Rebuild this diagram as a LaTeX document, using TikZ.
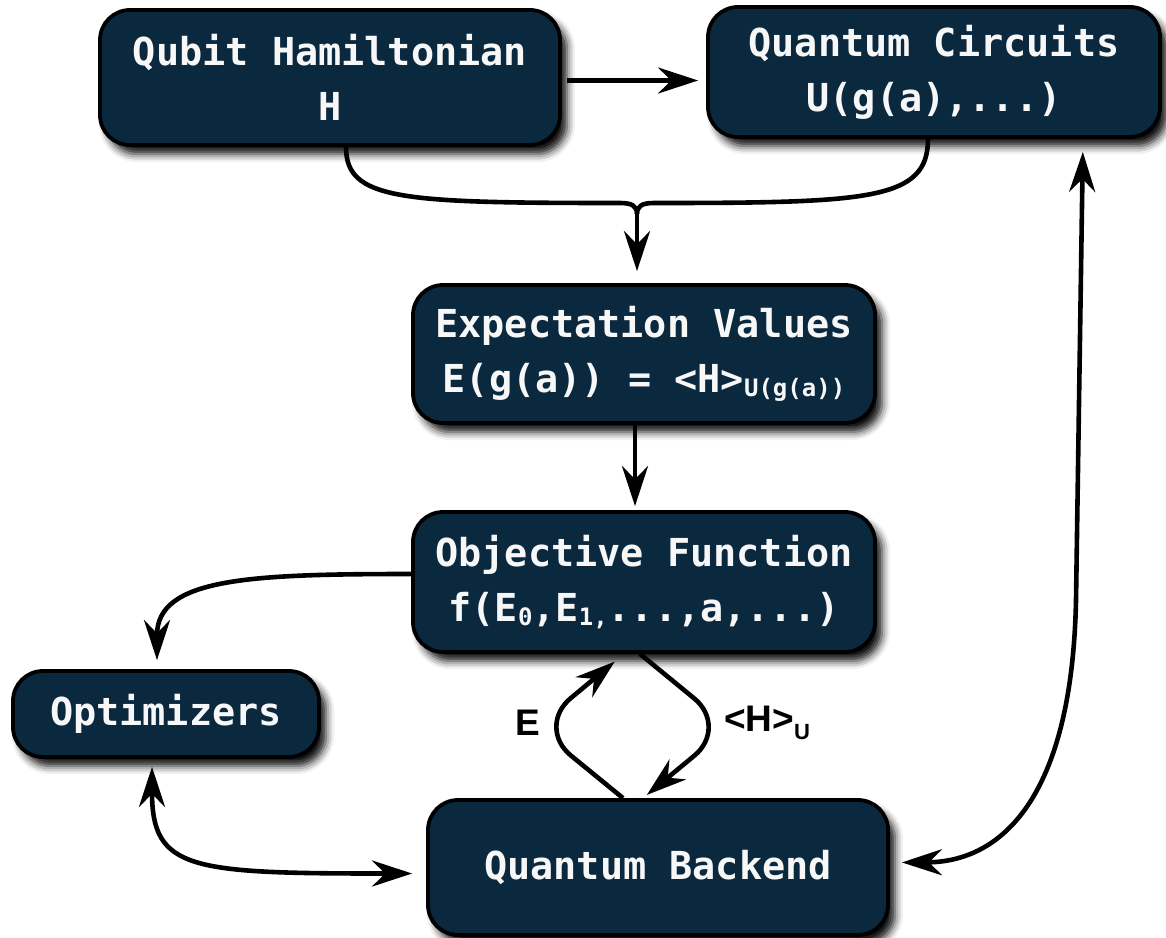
\documentclass[tikz,border=0pt]{standalone}
\usepackage{fontspec}
\newfontfamily\boxfont{DejaVu Sans Mono}
\newfontfamily\lblfont{Liberation Sans}
\usetikzlibrary{arrows.meta,shadows.blur}
\definecolor{boxfill}{HTML}{0A283E}
\definecolor{boxtext}{HTML}{F7F7F7}
\newcommand\lowtext[1]{\raisebox{-4pt}{\fontsize{24}{24}\selectfont #1}}
\newcommand\lowlbl[1]{\raisebox{-8pt}{\fontsize{22}{22}\selectfont #1}}
\tikzset{
 qbox/.style={draw=black, line width=3.8pt, fill=boxfill, rounded corners=30pt,
   text=boxtext, align=center, inner sep=0pt,
   font=\boxfont\bfseries\fontsize{38.5}{55}\selectfont,
   blur shadow={shadow xshift=7pt, shadow yshift=-9pt, shadow blur radius=8pt, shadow opacity=95}},
 tipA/.tip={Stealth[length=40pt,width=26pt,inset=13pt]},
 arr/.style={line width=4.6pt, -tipA},
 darr/.style={line width=4.6pt, tipA-tipA},
 plain/.style={line width=4.6pt},
 lbl/.style={font=\lblfont\bfseries\fontsize{37}{40}\selectfont, text=black, inner sep=0pt}
}
\begin{document}
\begin{tikzpicture}[x=1pt,y=1pt]
\useasboundingbox (0,0) rectangle (1166,-937);

\node[qbox, minimum width=460pt, minimum height=135pt] (QH) at (330,-77.5) {Qubit Hamiltonian\\H};
\node[qbox, minimum width=452pt, minimum height=130pt] (QC) at (934,-72) {Quantum Circuits\\U(g(a),...)};
\node[qbox, minimum width=462pt, minimum height=138pt] (EV) at (644,-354) {Expectation Values\\E(g(a)) = <H>\lowtext{U(g(a))}};
\node[qbox, minimum width=462pt, minimum height=140pt] (OF) at (644,-582) {Objective Function\\f(E\lowtext{0},E\lowtext{1,}...,a,...)};
\node[qbox, minimum width=306pt, minimum height=86pt] (OP) at (166,-714) {Optimizers};
\node[qbox, minimum width=460pt, minimum height=135pt] (QB) at (658,-867.5) {\raisebox{6pt}{Quantum Backend}};

\node[lbl] (LE) at (528,-723) {E};
\node[lbl, anchor=west] (LH) at (724,-723) {<H>\lowlbl{U}};

% QH -> QC
\draw[arr, shorten <=5pt, shorten >=8pt] ([yshift=-3pt]QH.east) -- ([yshift=-3pt]QH.east -| QC.west);

% merge brace
\coordinate (MJ) at (637,-214);
\draw[plain] ([xshift=16pt]QH.south) .. controls (346,-200) and (400,-203) .. (620,-203)
  .. controls (632,-203) and (637,-206) .. (MJ);
\draw[plain] ([xshift=-6pt]QC.south) .. controls (928,-200) and (870,-203) .. (654,-203)
  .. controls (642,-203) and (637,-206) .. (MJ);
\draw[arr, shorten >=12pt] (MJ) -- (MJ |- EV.north);

% EV -> OF
\draw[arr, shorten >=4pt] ([xshift=-9pt]EV.south) -- ([xshift=-9pt]EV.south |- OF.north);

% OF -> Optimizers
\draw[arr, shorten >=9pt] ([yshift=8pt]OF.west) .. controls (250,-574) and (157,-578) .. ([xshift=-9pt]OP.north);

% Optimizers <-> Backend
\draw[darr, shorten <=8pt, shorten >=14pt] ([xshift=-14pt]OP.south) .. controls (152,-870) and (190,-873.5) .. ([yshift=-6pt]QB.west);

% Backend <-> Circuits
\draw[darr, shorten <=12pt, shorten >=13pt] ([yshift=5pt]QB.east) .. controls (1000,-862) and (1072,-800) .. (1076,-600) -- ([xshift=149pt]QC.south);

% loop between OF and QB
\coordinate (LV) at (536,-727);
\coordinate (RV) at (729,-727);
\draw[arr, rounded corners=45pt, shorten >=12pt] ([xshift=-35pt]QB.north) -- (LV) -- ([xshift=-20pt]OF.south);
\draw[arr, rounded corners=45pt, shorten >=5pt] ([xshift=-4pt]OF.south) -- (RV) -- ([xshift=-15pt]QB.north);
\end{tikzpicture}
\end{document}
